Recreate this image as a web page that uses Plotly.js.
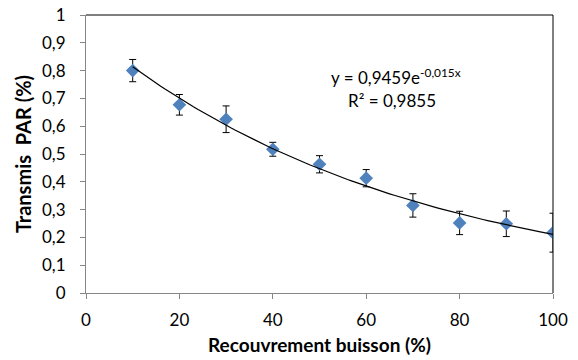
<!DOCTYPE html>
<html>
<head>
<meta charset="utf-8">
<script src="https://cdn.plot.ly/plotly-3.0.1.min.js"></script>
<style>
  html, body { margin: 0; padding: 0; background: #fff; }
  #chart { width: 578px; height: 360px; }
</style>
</head>
<body>
<div id="chart"></div>
<script>
// Shrub cover (%) vs PAR transmission, with standard errors
const cover = [10, 20, 30, 40, 50, 60, 70, 80, 90, 100];
const transmission = [0.80, 0.677, 0.625, 0.517, 0.463, 0.413, 0.315, 0.252, 0.249, 0.217];
const stdErr = [0.040, 0.037, 0.048, 0.025, 0.031, 0.031, 0.042, 0.042, 0.046, 0.070];

// Exponential trend line coefficients: y = a * e^(b x)
const trendA = 0.9459;
const trendB = -0.015;
const rSquared = 0.9855;

const yTicks = [0, 0.1, 0.2, 0.3, 0.4, 0.5, 0.6, 0.7, 0.8, 0.9, 1];
const xTicks = [0, 20, 40, 60, 80, 100];

// sample the fitted curve across the data range
const trendX = [];
const trendY = [];
for (let x = cover[0]; x <= cover[cover.length - 1]; x += 1) {
  trendX.push(x);
  trendY.push(trendA * Math.exp(trendB * x));
}

const fmt = (v, d) => v.toFixed(d).replace('.', ',');
const FONT = 'Lato, "Open Sans", sans-serif';
const GREY = '#868686';

const traces = [
  {
    x: cover, y: transmission, type: 'scatter', mode: 'markers',
    marker: { symbol: 'diamond', size: 10.5, color: '#4F81BD' },
    error_y: { type: 'data', array: stdErr, visible: true, color: '#000', thickness: 1, width: 3.5 },
    hoverinfo: 'skip'
  },
  {
    x: trendX, y: trendY, type: 'scatter', mode: 'lines',
    line: { color: '#000', width: 1.2 },
    hoverinfo: 'skip'
  }
];

const layout = {
  width: 578, height: 360,
  margin: { l: 85.5, r: 25, t: 15, b: 66.7 },
  paper_bgcolor: '#fff', plot_bgcolor: '#fff',
  showlegend: false,
  separators: ', ',
  font: { family: FONT, size: 17, color: '#000' },
  xaxis: {
    range: [0, 100], tickvals: xTicks, ticktext: xTicks.map(String),
    showgrid: false, zeroline: false,
    showline: true, linecolor: GREY, linewidth: 1,
    ticks: 'outside', ticklen: 5, tickcolor: GREY, tickwidth: 1,
    ticklabelstandoff: 7,
    tickfont: { family: FONT, size: 17 },
    title: { text: 'Recouvrement buisson (%)', font: { family: FONT, size: 19, weight: 'bold' }, standoff: 9 }
  },
  yaxis: {
    range: [0, 1], tickvals: yTicks, ticktext: yTicks.map(v => v === 0 || v === 1 ? String(v) : fmt(v, 1)),
    showgrid: false, zeroline: false,
    showline: true, linecolor: GREY, linewidth: 1,
    ticks: 'outside', ticklen: 5, tickcolor: GREY, tickwidth: 1,
    ticklabelstandoff: 11,
    tickfont: { family: FONT, size: 17 },
    title: { text: 'Transmis\u00a0 PAR (%)', font: { family: FONT, size: 20, weight: 'bold' }, standoff: 5 }
  },
  shapes: [
    { type: 'line', xref: 'paper', yref: 'paper', x0: 0, x1: 1, y0: 1, y1: 1, line: { color: '#000', width: 1 } },
    { type: 'line', xref: 'paper', yref: 'paper', x0: 1, x1: 1, y0: 0, y1: 1, line: { color: '#000', width: 1 } }
  ],
  annotations: [
    {
      x: 66.3, y: 0.777, xref: 'x', yref: 'y', showarrow: false, yanchor: 'middle',
      text: 'y = ' + fmt(trendA, 4) + 'e<sup>' + fmt(trendB, 3) + 'x</sup>',
      font: { family: FONT, size: 17, color: '#000' }
    },
    {
      x: 65.6, y: 0.691, xref: 'x', yref: 'y', showarrow: false, yanchor: 'middle',
      text: 'R² = ' + fmt(rSquared, 4),
      font: { family: FONT, size: 17, color: '#000' }
    }
  ]
};

Plotly.newPlot('chart', traces, layout, { staticPlot: true, displayModeBar: false });
</script>
</body>
</html>
